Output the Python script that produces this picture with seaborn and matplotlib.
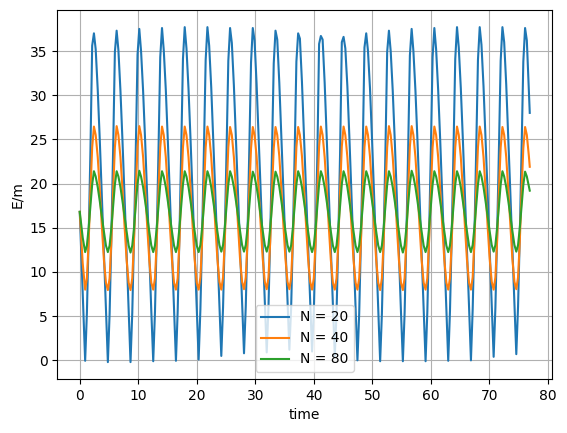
import matplotlib
matplotlib.use("Agg")
import matplotlib.pyplot as plt
import seaborn as sns

# time samples (one row per oscillation, starting at each trough)
time = [
    0.0, 0.5,
    0.92, 1.22, 1.52, 1.82, 2.12, 2.42, 2.72, 3.07, 3.42, 3.77, 4.12, 4.47,
    4.80, 5.10, 5.40, 5.70, 6.00, 6.30, 6.60, 6.95, 7.30, 7.65, 8.00, 8.35,
    8.67, 8.97, 9.27, 9.57, 9.87, 10.17, 10.47, 10.82, 11.17, 11.52, 11.87, 12.22,
    12.55, 12.85, 13.15, 13.45, 13.75, 14.05, 14.35, 14.70, 15.05, 15.40, 15.75, 16.10,
    16.43, 16.73, 17.03, 17.33, 17.63, 17.93, 18.23, 18.58, 18.93, 19.28, 19.63, 19.98,
    20.31, 20.61, 20.91, 21.21, 21.51, 21.81, 22.11, 22.46, 22.81, 23.16, 23.51, 23.86,
    24.18, 24.48, 24.78, 25.08, 25.38, 25.68, 25.98, 26.33, 26.68, 27.03, 27.38, 27.73,
    28.06, 28.36, 28.66, 28.96, 29.26, 29.56, 29.86, 30.21, 30.56, 30.91, 31.26, 31.61,
    31.94, 32.24, 32.54, 32.84, 33.14, 33.44, 33.74, 34.09, 34.44, 34.79, 35.14, 35.49,
    35.81, 36.11, 36.41, 36.71, 37.01, 37.31, 37.61, 37.96, 38.31, 38.66, 39.01, 39.36,
    39.69, 39.99, 40.29, 40.59, 40.89, 41.19, 41.49, 41.84, 42.19, 42.54, 42.89, 43.24,
    43.57, 43.87, 44.17, 44.47, 44.77, 45.07, 45.37, 45.72, 46.07, 46.42, 46.77, 47.12,
    47.44, 47.74, 48.04, 48.34, 48.64, 48.94, 49.24, 49.59, 49.94, 50.29, 50.64, 50.99,
    51.32, 51.62, 51.92, 52.22, 52.52, 52.82, 53.12, 53.47, 53.82, 54.17, 54.52, 54.87,
    55.20, 55.50, 55.80, 56.10, 56.40, 56.70, 57.00, 57.35, 57.70, 58.05, 58.40, 58.75,
    59.08, 59.38, 59.68, 59.98, 60.28, 60.58, 60.88, 61.23, 61.58, 61.93, 62.28, 62.63,
    62.95, 63.25, 63.55, 63.85, 64.15, 64.45, 64.75, 65.10, 65.45, 65.80, 66.15, 66.50,
    66.83, 67.13, 67.43, 67.73, 68.03, 68.33, 68.63, 68.98, 69.33, 69.68, 70.03, 70.38,
    70.71, 71.01, 71.31, 71.61, 71.91, 72.21, 72.51, 72.86, 73.21, 73.56, 73.91, 74.26,
    74.58, 74.88, 75.18, 75.48, 75.78, 76.08, 76.38, 76.73, 76.88,
]

# E/m for N = 20
e_n20 = [
    16.8, 7.7,
    -0.05, 5.4, 14.0, 23.6, 35.6, 37.0, 35.2, 30.6, 24.9, 18.7, 12.3, 5.7,
    -0.2, 5.3, 14.0, 23.8, 34.9, 37.3, 35.1, 30.5, 24.8, 18.6, 12.2, 5.6,
    -0.2, 5.4, 14.1, 23.8, 34.6, 37.5, 35.0, 30.5, 24.8, 18.6, 12.2, 5.6,
    -0.1, 5.5, 14.1, 23.7, 34.3, 37.6, 35.1, 30.6, 24.8, 18.6, 12.3, 5.8,
    -0.05, 5.6, 14.2, 23.7, 34.1, 37.7, 35.3, 30.7, 24.9, 18.7, 12.4, 6.0,
    0.1, 5.8, 14.3, 23.8, 34.0, 37.7, 35.6, 30.9, 25.0, 18.8, 12.6, 6.3,
    0.5, 6.0, 14.4, 23.8, 33.9, 37.6, 35.9, 31.1, 25.2, 19.0, 12.8, 6.6,
    0.8, 6.1, 14.3, 23.7, 33.7, 37.6, 36.2, 31.3, 25.3, 19.1, 12.9, 6.8,
    0.9, 6.0, 14.2, 23.5, 33.6, 37.3, 36.3, 31.4, 25.4, 19.2, 13.0, 7.0,
    1.2, 5.9, 14.0, 23.3, 33.8, 37.0, 36.4, 31.5, 25.4, 19.2, 12.9, 6.8,
    1.0, 5.6, 13.8, 23.2, 35.8, 36.7, 36.3, 31.4, 25.3, 19.0, 12.7, 6.4,
    0.5, 5.4, 13.7, 23.3, 36.0, 36.6, 35.3, 31.0, 25.1, 18.8, 12.4, 6.0,
    0.0, 5.3, 13.8, 23.5, 35.4, 37.0, 35.0, 30.7, 24.9, 18.6, 12.2, 5.7,
    -0.1, 5.3, 13.9, 23.6, 34.9, 37.3, 35.0, 30.5, 24.8, 18.6, 12.2, 5.6,
    -0.1, 5.4, 14.0, 23.7, 34.5, 37.5, 35.0, 30.5, 24.8, 18.6, 12.2, 5.7,
    -0.1, 5.5, 14.1, 23.7, 34.3, 37.6, 35.2, 30.6, 24.9, 18.7, 12.3, 5.9,
    -0.05, 5.6, 14.2, 23.8, 34.1, 37.7, 35.4, 30.8, 25.0, 18.8, 12.5, 6.2,
    0.0, 5.8, 14.3, 23.8, 34.0, 37.7, 35.7, 31.0, 25.1, 18.9, 12.7, 6.5,
    0.4, 6.0, 14.4, 23.8, 33.9, 37.7, 36.0, 31.2, 25.2, 19.0, 12.8, 6.7,
    0.7, 6.1, 14.3, 23.7, 33.8, 37.6, 36.2, 30.4, 28.0,
]

# E/m for N = 40
e_n40 = [
    16.8, 11.0,
    8.0, 9.3, 13.5, 19.1, 24.1, 26.45, 25.5, 23.0, 19.3, 15.2, 11.4, 8.8,
    7.95, 9.3, 13.5, 19.2, 24.1, 26.5, 25.5, 23.0, 19.3, 15.2, 11.4, 8.8,
    7.95, 9.3, 13.6, 19.2, 24.2, 26.5, 25.5, 23.0, 19.3, 15.2, 11.4, 8.8,
    8.0, 9.3, 13.5, 19.1, 24.1, 26.45, 25.5, 23.0, 19.3, 15.2, 11.4, 8.8,
    8.0, 9.3, 13.5, 19.1, 24.1, 26.45, 25.5, 23.0, 19.3, 15.2, 11.4, 8.8,
    8.0, 9.4, 13.6, 19.2, 24.1, 26.45, 25.5, 23.0, 19.3, 15.2, 11.5, 8.9,
    8.0, 9.4, 13.6, 19.2, 24.1, 26.4, 25.5, 23.0, 19.3, 15.3, 11.5, 8.9,
    8.05, 9.4, 13.5, 19.1, 24.0, 26.4, 25.5, 23.1, 19.4, 15.3, 11.5, 8.9,
    8.05, 9.4, 13.5, 19.1, 24.0, 26.4, 25.5, 23.1, 19.4, 15.3, 11.5, 8.9,
    8.05, 9.3, 13.5, 19.0, 24.1, 26.4, 25.5, 23.1, 19.4, 15.3, 11.5, 8.9,
    8.0, 9.3, 13.4, 19.0, 24.2, 26.45, 25.5, 23.0, 19.3, 15.2, 11.4, 8.8,
    8.0, 9.3, 13.4, 19.1, 24.2, 26.45, 25.5, 23.0, 19.3, 15.2, 11.4, 8.8,
    8.0, 9.3, 13.5, 19.1, 24.1, 26.45, 25.5, 23.0, 19.3, 15.2, 11.4, 8.8,
    7.95, 9.3, 13.5, 19.2, 24.1, 26.5, 25.5, 23.0, 19.3, 15.2, 11.4, 8.8,
    7.95, 9.3, 13.6, 19.2, 24.2, 26.5, 25.5, 23.0, 19.3, 15.2, 11.4, 8.8,
    8.0, 9.3, 13.5, 19.1, 24.1, 26.45, 25.5, 23.0, 19.3, 15.2, 11.4, 8.8,
    8.0, 9.3, 13.5, 19.1, 24.1, 26.45, 25.5, 23.0, 19.3, 15.2, 11.4, 8.8,
    8.0, 9.4, 13.6, 19.2, 24.1, 26.45, 25.5, 23.0, 19.3, 15.2, 11.5, 8.9,
    8.0, 9.4, 13.6, 19.2, 24.1, 26.4, 25.5, 23.0, 19.3, 15.3, 11.5, 8.9,
    8.05, 9.4, 13.5, 19.1, 24.0, 26.4, 25.5, 23.1, 21.9,
]

# E/m for N = 80
e_n80 = [
    16.8, 13.9,
    12.25, 13.0, 15.0, 17.5, 19.9, 21.4, 20.8, 19.6, 18.0, 16.3, 14.6, 13.0,
    12.25, 13.0, 15.0, 17.5, 19.9, 21.4, 20.8, 19.6, 18.0, 16.3, 14.6, 13.0,
    12.2, 13.0, 15.0, 17.6, 20.0, 21.45, 20.8, 19.6, 18.0, 16.3, 14.6, 13.0,
    12.25, 13.0, 15.0, 17.5, 19.9, 21.4, 20.8, 19.6, 18.0, 16.3, 14.6, 13.0,
    12.25, 13.0, 15.0, 17.5, 19.9, 21.4, 20.8, 19.6, 18.0, 16.3, 14.6, 13.0,
    12.25, 13.05, 15.05, 17.5, 19.9, 21.4, 20.8, 19.6, 18.0, 16.3, 14.6, 13.05,
    12.3, 13.05, 15.05, 17.5, 19.9, 21.4, 20.8, 19.6, 18.05, 16.35, 14.65, 13.05,
    12.3, 13.05, 15.0, 17.45, 19.85, 21.35, 20.8, 19.65, 18.05, 16.35, 14.65, 13.05,
    12.3, 13.05, 15.0, 17.45, 19.85, 21.35, 20.8, 19.65, 18.05, 16.35, 14.65, 13.05,
    12.3, 13.0, 15.0, 17.45, 19.9, 21.4, 20.8, 19.6, 18.0, 16.3, 14.6, 13.0,
    12.25, 13.0, 14.95, 17.45, 19.95, 21.4, 20.8, 19.6, 18.0, 16.3, 14.6, 13.0,
    12.25, 13.0, 14.95, 17.5, 19.95, 21.4, 20.8, 19.6, 18.0, 16.3, 14.6, 13.0,
    12.25, 13.0, 15.0, 17.5, 19.9, 21.4, 20.8, 19.6, 18.0, 16.3, 14.6, 13.0,
    12.25, 13.0, 15.0, 17.5, 19.9, 21.4, 20.8, 19.6, 18.0, 16.3, 14.6, 13.0,
    12.2, 13.0, 15.0, 17.6, 20.0, 21.45, 20.8, 19.6, 18.0, 16.3, 14.6, 13.0,
    12.25, 13.0, 15.0, 17.5, 19.9, 21.4, 20.8, 19.6, 18.0, 16.3, 14.6, 13.0,
    12.25, 13.0, 15.0, 17.5, 19.9, 21.4, 20.8, 19.6, 18.0, 16.3, 14.6, 13.0,
    12.25, 13.05, 15.05, 17.5, 19.9, 21.4, 20.8, 19.6, 18.0, 16.3, 14.6, 13.05,
    12.3, 13.05, 15.05, 17.5, 19.9, 21.4, 20.8, 19.6, 18.05, 16.35, 14.65, 13.05,
    12.3, 13.05, 15.0, 17.45, 19.85, 21.35, 20.8, 19.65, 19.2,
]

labels = ["N = 20", "N = 40", "N = 80"]
colors = ["#1f77b4", "#ff7f0e", "#2ca02c"]


def main():
    fig = plt.figure(figsize=(5.67, 4.33), dpi=100)
    ax = fig.add_axes([0.101, 0.125, 0.873, 0.851])

    for serie, label, color in zip([e_n20, e_n40, e_n80], labels, colors):
        sns.lineplot(x=time, y=serie, ax=ax, label=label, color=color,
                     sort=False, estimator=None, linewidth=1.5)

    ax.set_xlabel("time")
    ax.set_ylabel("E/m")
    ax.grid(True)
    ax.legend(loc="lower center")

    fig.savefig("out.png", dpi=100)


if __name__ == "__main__":
    main()
